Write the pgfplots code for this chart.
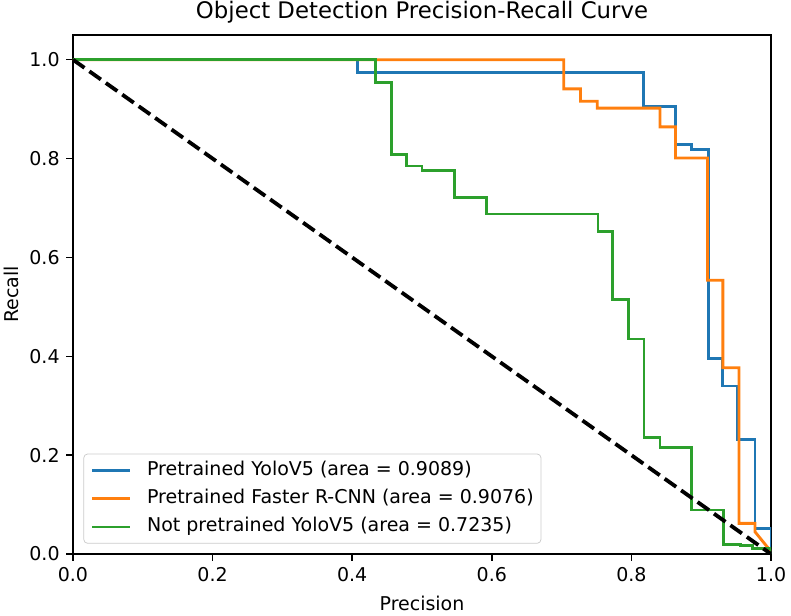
\documentclass[border=0pt]{standalone}
\usepackage{fontspec}
\setmainfont{DejaVu Sans}
\usepackage{pgfplots}
\pgfplotsset{compat=1.18}

\definecolor{tabblue}{HTML}{1F77B4}
\definecolor{taborange}{HTML}{FF7F0E}
\definecolor{tabgreen}{HTML}{2CA02C}

\begin{document}
\begin{tikzpicture}
\begin{axis}[
    name=ax,
    scale only axis,
    width=367.4pt,
    height=273.2pt,
    xmin=0, xmax=1,
    ymin=0, ymax=1.05,
    xtick={0,0.2,0.4,0.6,0.8,1.0},
    ytick={0,0.2,0.4,0.6,0.8,1.0},
    /pgf/number format/.cd, fixed, fixed zerofill, precision=1, assume math mode=true,
    /pgfplots/.cd,
    tick label style={font=\fontsize{10}{12}\selectfont},
    tick align=outside,
    major tick length=3.5pt,
    every tick/.style={black, line width=0.8pt},
    axis line style={line width=0.8pt},
    xtick pos=bottom, ytick pos=left,
    every axis title shift=0pt,
    title={Object Detection Precision-Recall Curve},
    title style={font=\fontsize{12}{14}\selectfont, at={([yshift=8.4pt]axis description cs:0.5,1)}, anchor=base},
    xlabel={Precision},
    ylabel={Recall},
    xlabel style={font=\fontsize{10}{12}\selectfont, at={([yshift=-25.8pt]axis description cs:0.5,0)}, anchor=center},
    ylabel style={font=\fontsize{10}{12}\selectfont, at={([xshift=-32.2pt]axis description cs:0,0.5)}, anchor=center},
    legend cell align=left,
    legend style={
        at={(0.015,0.02)}, anchor=south west,
        draw=black!20, rounded corners=2pt,
        fill=white, fill opacity=0.8, text opacity=1,
        font=\fontsize{10}{12}\selectfont,
        inner xsep=3.8pt, inner ysep=3.6pt,
        row sep=4.9pt,
        nodes={inner sep=0pt, text height=7.6pt, text depth=2.4pt},
    },
    legend image code/.code={\draw[#1] (0pt,0pt) -- (20pt,0pt); \path (28pt,0pt);},
]
\addplot[tabblue, line width=1.5pt] coordinates {
(0,1) (0.408,1) (0.408,0.974) (0.817,0.974) (0.817,0.906) (0.863,0.906)
(0.863,0.829) (0.886,0.829) (0.886,0.818) (0.910,0.818) (0.910,0.396)
(0.931,0.396) (0.931,0.340) (0.952,0.340) (0.952,0.232) (0.977,0.232)
(0.977,0.052) (1.0,0.052) (1.0,0)
};
\addlegendentry{Pretrained YoloV5 (area = 0.9089)}
\addplot[taborange, line width=1.5pt] coordinates {
(0,1) (0.703,1) (0.703,0.941) (0.727,0.941) (0.727,0.916) (0.751,0.916)
(0.751,0.902) (0.841,0.902) (0.841,0.864) (0.863,0.864) (0.863,0.801)
(0.909,0.801) (0.909,0.554) (0.931,0.554) (0.931,0.377) (0.954,0.377)
(0.954,0.062) (0.977,0.062) (0.977,0.045) (1.0,0.005)
};
\addlegendentry{Pretrained Faster R-CNN (area = 0.9076)}
\addplot[tabgreen, line width=1.5pt] coordinates {
(0,1) (0.433,1) (0.433,0.953) (0.456,0.953) (0.456,0.808) (0.478,0.808)
(0.478,0.785) (0.500,0.785) (0.500,0.775) (0.546,0.775) (0.546,0.722)
(0.592,0.722) (0.592,0.688) (0.752,0.688) (0.752,0.653) (0.773,0.653)
(0.773,0.515) (0.796,0.515) (0.796,0.435) (0.818,0.435) (0.818,0.235)
(0.841,0.235) (0.841,0.215) (0.886,0.215) (0.886,0.089) (0.932,0.089)
(0.932,0.020) (0.956,0.020) (0.956,0.017) (0.974,0.017) (0.974,0.012)
(1.0,0.012) (1.0,0)
};
\addlegendentry{Not pretrained YoloV5 (area = 0.7235)}
\addplot[black, line width=2pt, dash pattern=on 7.4pt off 3.2pt, forget plot] coordinates {(0,1) (1,0)};
\end{axis}
\pgfresetboundingbox
\path ([shift={(-38.4pt,-32.1pt)}]ax.south west) rectangle ([shift={(10.5pt,18.4pt)}]ax.north east);
\end{tikzpicture}
\end{document}
